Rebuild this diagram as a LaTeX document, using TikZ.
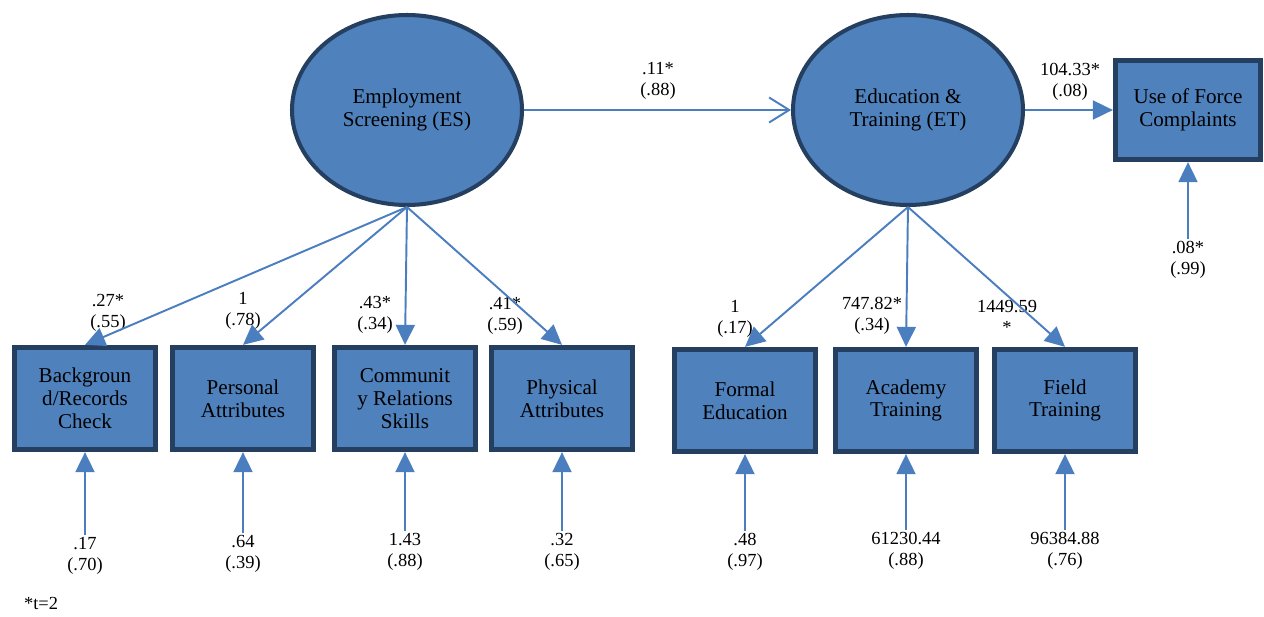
\documentclass[tikz,border=0pt]{standalone}
\usepackage{fontspec}
\setmainfont{Liberation Serif}
\usepackage{tikz}
\usetikzlibrary{arrows.meta,shapes.geometric}
\definecolor{semfill}{RGB}{79,129,189}
\definecolor{semedge}{RGB}{36,63,96}
\definecolor{semline}{RGB}{74,126,190}

\begin{document}
\begin{tikzpicture}[
  latent/.style={ellipse,draw=semedge,fill=semfill,line width=2.3pt,minimum width=4.6cm,minimum height=3.8cm,inner sep=0pt,align=center,font=\fontsize{12}{13}\selectfont},
  observed/.style={rectangle,draw=semedge,fill=semfill,line width=3pt,minimum width=2.82cm,minimum height=2.04cm,inner sep=0pt,align=center,font=\fontsize{12}{13}\selectfont},
  est/.style={align=center,inner sep=1pt,font=\fontsize{10.5}{12}\selectfont},
  path/.style={draw=semline,line width=1.1pt,-{Triangle[length=0.4cm,width=0.38cm]}},
  regress/.style={draw=semline,line width=1.1pt,-{Straight Barb[length=0.4cm,width=0.5cm]}}]
  \useasboundingbox (0,0) rectangle (25.28,-12.32);
      \draw (8.14,-2.2) node[latent] (ES) {Employment\\Screening (ES)};
  \draw (18.16,-2.2) node[latent] (ET) {Education \&\\Training (ET)};
      \draw (23.76,-2.2) node[observed,minimum width=2.9cm,minimum height=1.98cm] (UoF) {Use of Force\\Complaints};
      \draw (1.7,-7.97) node[observed] (BRC) {Backgroun\\d/Records\\Check};
      \draw (4.86,-7.97) node[observed] (PA) {Personal\\Attributes};
      \draw (8.1,-7.97) node[observed] (CRS) {Communit\\y Relations\\Skills};
      \draw (11.24,-7.97) node[observed] (PhA) {Physical\\Attributes};
      \draw (14.9,-8.01) node[observed] (FE) {Formal\\Education};
      \draw (18.12,-8.01) node[observed] (AT) {Academy\\Training};
      \draw (21.3,-8.01) node[observed] (FT) {Field\\Training};
      \draw (13.16,-1.62) node[est] (estESET) {.11*\\(.88)};
      \draw (21.4,-1.64) node[est] (estETUoF) {104.33*\\(.08)};
      \draw (2.16,-6.26) node[est] (estBRC) {.27*\\(.55)};
      \draw (4.86,-6.22) node[est] (estPA) {1\\(.78)};
      \draw (7.5,-6.3) node[est] (estCRS) {.43*\\(.34)};
      \draw (10.1,-6.32) node[est] (estPhA) {.41*\\(.59)};
      \draw (14.7,-6.38) node[est] (estFE) {1\\(.17)};
      \draw (17.44,-6.32) node[est] (estAT) {747.82*\\(.34)};
      \draw (20.14,-6.34) node[est] (estFT) {1449.59\\*};
      \draw (1.7,-11.12) node[est] (errBRC) {.17\\(.70)};
      \draw (4.86,-11.08) node[est] (errPA) {.64\\(.39)};
      \draw (8.1,-11.04) node[est] (errCRS) {1.43\\(.88)};
      \draw (11.24,-11.04) node[est] (errPhA) {.32\\(.65)};
      \draw (14.9,-11.04) node[est] (errFE) {.48\\(.97)};
      \draw (18.12,-11.02) node[est] (errAT) {61230.44\\(.88)};
      \draw (21.3,-11.02) node[est] (errFT) {96384.88\\(.76)};
      \draw (23.76,-5.2) node[est] (errUoF) {.08*\\(.99)};
      \draw (0.44,-12.06) node[est,anchor=west] (note) {*t=2};
      \path[regress] (ES) -- (ET);
      \path[path] (ET) -- (UoF);
      \path[path] (ES.south) -- (BRC.north);
      \path[path] (ES.south) -- (PA.north);
      \path[path] (ES.south) -- (CRS.north);
      \path[path] (ES.south) -- (PhA.north);
      \path[path] (ET.south) -- (FE.north);
      \path[path] (ET.south) -- (AT.north);
      \path[path] (ET.south) -- (FT.north);
      \path[path] (errBRC.north) -- (BRC.south);
      \path[path] (errPA.north) -- (PA.south);
      \path[path] (errCRS.north) -- (CRS.south);
      \path[path] (errPhA.north) -- (PhA.south);
      \path[path] (errFE.north) -- (FE.south);
      \path[path] (errAT.north) -- (AT.south);
      \path[path] (errFT.north) -- (FT.south);
      \path[path] (errUoF.north) -- (UoF.south);
\end{tikzpicture}
\end{document}
